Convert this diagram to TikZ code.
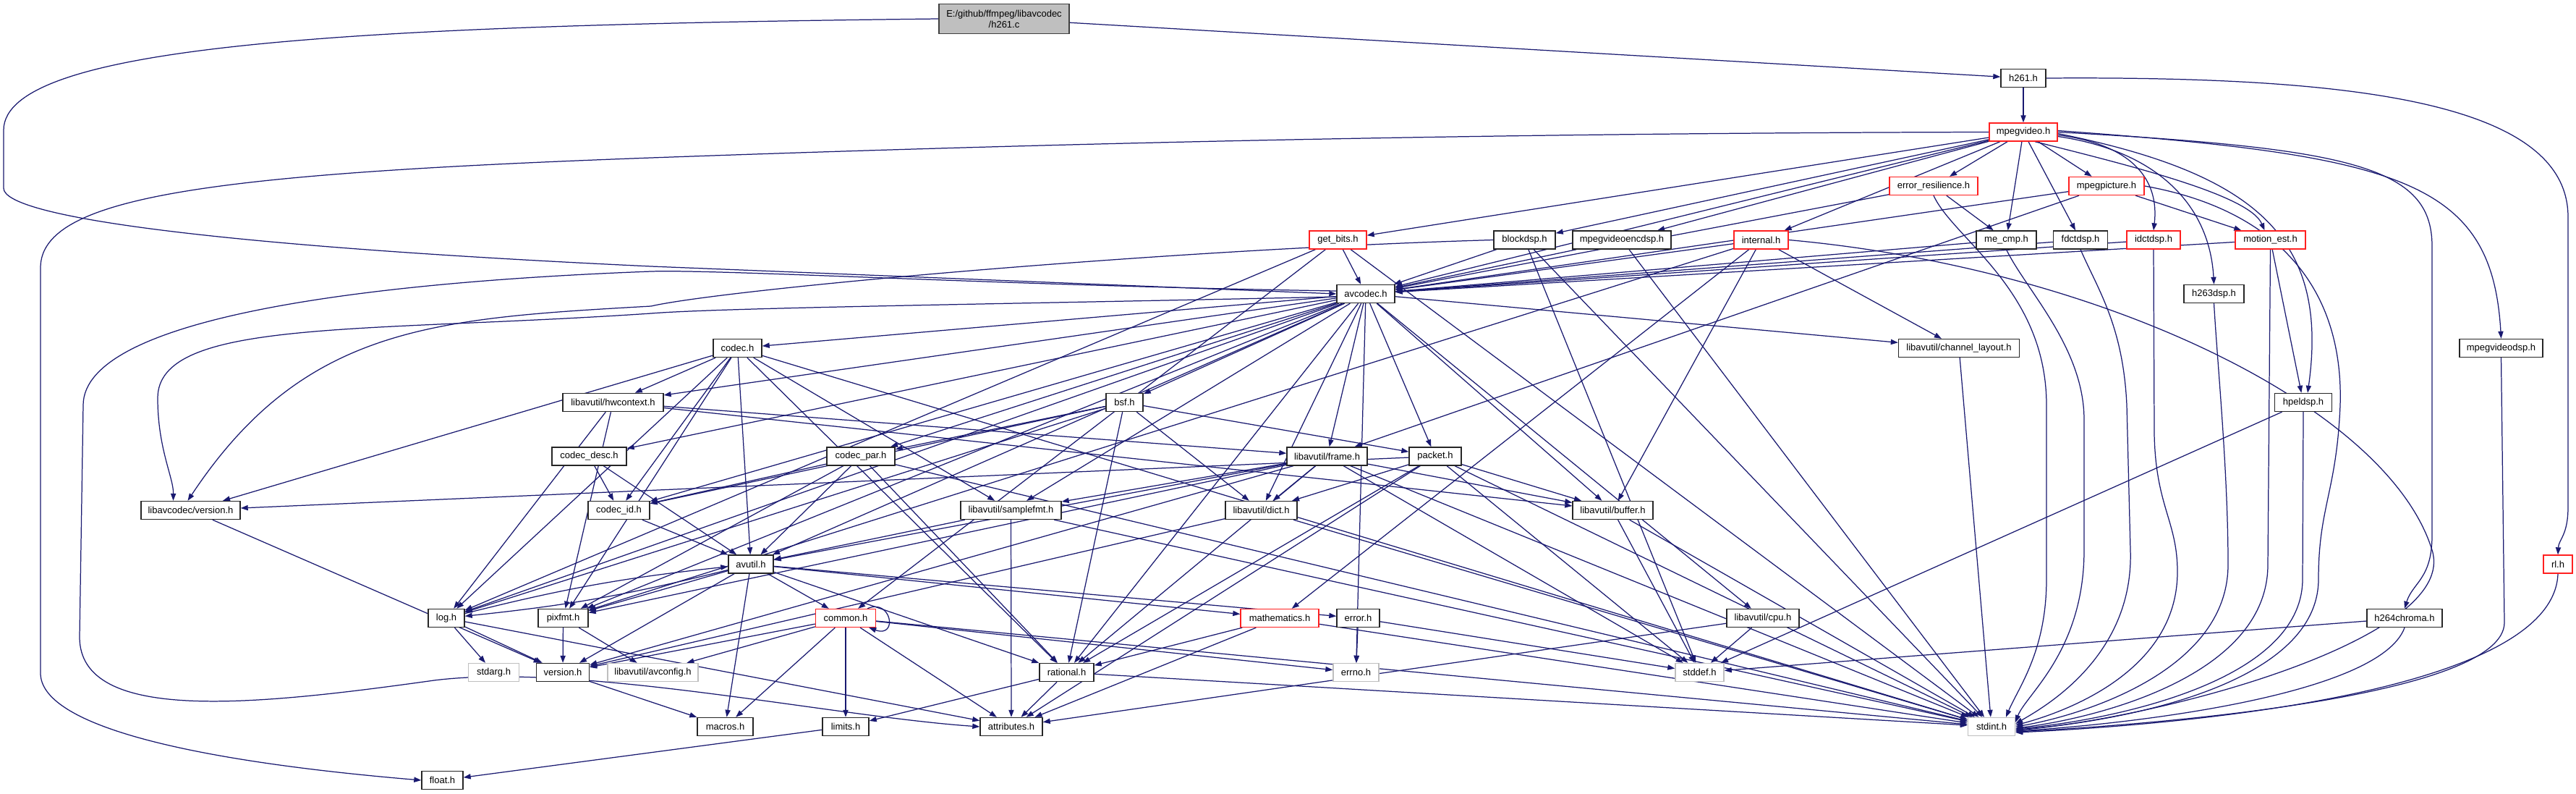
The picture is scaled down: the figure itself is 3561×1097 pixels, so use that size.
\documentclass[tikz,border=0pt]{standalone}
\usepackage{fontspec}
\setmainfont{Liberation Sans}
\usetikzlibrary{arrows.meta}
\definecolor{edgec}{HTML}{191970}
\definecolor{redb}{HTML}{FF2020}
\definecolor{grayb}{HTML}{BFBFBF}
\definecolor{rootf}{HTML}{BFBFBF}
\pgfdeclarelayer{bg}
\pgfdeclarelayer{edges}
\pgfsetlayers{bg,edges,main}
\begin{document}
\begin{tikzpicture}[x=0.5pt,y=-0.5pt,
  box/.style={rectangle, draw=black!85, line width=0.7pt, inner sep=0pt, minimum height=12.5pt,
    font=\fontsize{6.5}{7.5}\selectfont, text=black, fill=white},
  rbox/.style={box, draw=redb},
  gbox/.style={box, draw=grayb},
  e/.style={draw=edgec, line width=0.62pt, -{Triangle[length=5pt,width=3.6pt]}},
]
\begin{pgfonlayer}{bg}
\fill[white] (0,0) rectangle (3561,1097);
\end{pgfonlayer}
\useasboundingbox (0,0) rectangle (3561,1097);

% nodes
\node[box, fill=rootf, draw=black!75, align=center, minimum width=90pt, minimum height=20.5pt] (h261c) at (1388,26) {E:/github/ffmpeg/libavcodec\\/h261.c};
\node[box, minimum width=31pt] (h261h) at (2797,108) {h261.h};
\node[rbox, minimum width=47pt] (mpegvideo) at (2797,182.5) {mpegvideo.h};
\node[rbox, minimum width=61pt] (errres) at (2673,257) {error\_resilience.h};
\node[rbox, minimum width=52pt] (mpegpic) at (2912,257) {mpegpicture.h};
\node[rbox, minimum width=39.5pt] (getbits) at (1849.5,331.5) {get\_bits.h};
\node[box, minimum width=42.5pt] (blockdsp) at (2107.5,331.5) {blockdsp.h};
\node[box, minimum width=68pt] (mvencdsp) at (2242,331.5) {mpegvideoencdsp.h};
\node[rbox, minimum width=37.5pt] (internal) at (2434.5,331.5) {internal.h};
\node[box, minimum width=41.5pt] (mecmp) at (2773.5,331.5) {me\_cmp.h};
\node[box, minimum width=37.5pt] (fdctdsp) at (2876,331.5) {fdctdsp.h};
\node[rbox, minimum width=37pt] (idctdsp) at (2977,331.5) {idctdsp.h};
\node[rbox, minimum width=48.5pt] (motionest) at (3138.5,331.5) {motion\_est.h};
\node[box, minimum width=40pt] (avcodec) at (1888,406) {avcodec.h};
\node[box, minimum width=41.5pt] (h263dsp) at (3060.5,406) {h263dsp.h};
\node[box, minimum width=83.5pt] (chlayout) at (2708,481) {libavutil/channel\_layout.h};
\node[box, minimum width=33.5pt] (codec) at (1019.5,481) {codec.h};
\node[box, minimum width=57.5pt] (mvdsp) at (3457.5,481) {mpegvideodsp.h};
\node[box, minimum width=69.5pt] (hwcontext) at (847.5,556) {libavutil/hwcontext.h};
\node[box, minimum width=25.5pt] (bsf) at (1554.5,556) {bsf.h};
\node[box, minimum width=39.5pt] (hpeldsp) at (3184,556) {hpeldsp.h};
\node[box, minimum width=51.5pt] (codecdesc) at (814.5,630.5) {codec\_desc.h};
\node[box, minimum width=47pt] (codecpar) at (1190,630.5) {codec\_par.h};
\node[box, minimum width=55.5pt] (frame) at (1834.5,630.5) {libavutil/frame.h};
\node[box, minimum width=36pt] (packet) at (1984,630.5) {packet.h};
\node[box, minimum width=68.5pt] (lavcver) at (263.5,705) {libavcodec/version.h};
\node[box, minimum width=42.5pt] (codecid) at (855.5,705) {codec\_id.h};
\node[box, minimum width=69.5pt] (samplefmt) at (1397.5,705) {libavutil/samplefmt.h};
\node[box, minimum width=49.5pt] (dict) at (1743.5,705) {libavutil/dict.h};
\node[box, minimum width=55.5pt] (buffer) at (2229.5,705) {libavutil/buffer.h};
\node[box, minimum width=31pt] (avutil) at (1038,779.5) {avutil.h};
\node[rbox, minimum width=20pt] (rl) at (3536,779.5) {rl.h};
\node[box, minimum width=25pt] (log) at (617,854) {log.h};
\node[box, minimum width=34.5pt] (pixfmt) at (778.5,854) {pixfmt.h};
\node[rbox, minimum width=41.5pt] (common) at (1169,854) {common.h};
\node[rbox, minimum width=54pt] (math) at (1769,854) {mathematics.h};
\node[box, minimum width=29.5pt] (error) at (1877.5,854) {error.h};
\node[box, minimum width=50pt] (cpu) at (2437,854) {libavutil/cpu.h};
\node[box, minimum width=52pt] (h264chroma) at (3324,854) {h264chroma.h};
\node[gbox, minimum width=35pt] (stdarg) at (682.5,929) {stdarg.h};
\node[box, minimum width=36.5pt] (version) at (778,929) {version.h};
\node[gbox, minimum width=62.5pt] (avconfig) at (902.5,929) {libavutil/avconfig.h};
\node[box, minimum width=37.5pt] (rational) at (1474.5,929) {rational.h};
\node[gbox, minimum width=31.5pt] (errno) at (1874.5,929) {errno.h};
\node[gbox, minimum width=33.5pt] (stddef) at (2349.5,929) {stddef.h};
\node[box, minimum width=38.5pt] (macros) at (1002.5,1004) {macros.h};
\node[box, minimum width=32pt] (limits) at (1169,1004) {limits.h};
\node[box, minimum width=43pt] (attributes) at (1398,1004) {attributes.h};
\node[gbox, minimum width=32.5pt] (stdint) at (2753,1004) {stdint.h};
\node[box, minimum width=28.5pt] (float) at (611.5,1078) {float.h};

\begin{pgfonlayer}{edges}
\foreach \a/\b in {h261c/h261h, h261h/mpegvideo,
 mpegvideo/avcodec, mpegvideo/getbits, mpegvideo/blockdsp, mpegvideo/mvencdsp, mpegvideo/internal,
 mpegvideo/errres, mpegvideo/mecmp, mpegvideo/fdctdsp, mpegvideo/mpegpic,
 errres/avcodec, errres/mecmp,
 mpegpic/avcodec, mpegpic/frame, mpegpic/motionest,
 getbits/avcodec, getbits/common, getbits/log, getbits/stdint,
 blockdsp/avcodec, blockdsp/stddef, blockdsp/stdint,
 mvencdsp/avcodec, mvencdsp/stdint,
 internal/avcodec, internal/buffer, internal/chlayout, internal/math, internal/pixfmt,
 mecmp/avcodec, fdctdsp/avcodec, idctdsp/avcodec,
 motionest/avcodec, motionest/hpeldsp,
 hpeldsp/stddef, h264chroma/stddef,
 chlayout/stdint,
 avcodec/avutil, avcodec/buffer, avcodec/cpu, avcodec/chlayout, avcodec/dict, avcodec/frame,
 avcodec/hwcontext, avcodec/log, avcodec/pixfmt, avcodec/rational, avcodec/bsf, avcodec/codec,
 avcodec/codecdesc, avcodec/codecpar, avcodec/codecid, avcodec/packet, avcodec/errno, avcodec/samplefmt,
 codec/stdint, codec/avutil, codec/hwcontext, codec/log, codec/pixfmt, codec/rational, codec/samplefmt,
 codec/codecid, codec/lavcver,
 hwcontext/buffer, hwcontext/frame, hwcontext/log, hwcontext/pixfmt,
 bsf/dict, bsf/log, bsf/rational, bsf/codecid, bsf/codecpar, bsf/packet,
 codecdesc/avutil, codecdesc/codecid,
 codecpar/stdint, codecpar/avutil, codecpar/rational, codecpar/pixfmt, codecpar/codecid,
 packet/stddef, packet/stdint, packet/attributes, packet/buffer, packet/dict, packet/rational, packet/lavcver,
 frame/stddef, frame/stdint, frame/avutil, frame/buffer, frame/dict, frame/rational, frame/samplefmt,
 frame/pixfmt, frame/version,
 lavcver/version, codecid/avutil,
 samplefmt/stdint, samplefmt/avutil, samplefmt/attributes,
 dict/stdint, dict/version, buffer/stddef, buffer/stdint,
 avutil/common, avutil/error, avutil/rational, avutil/version, avutil/macros, avutil/math, avutil/pixfmt,
 log/stdarg, log/attributes, log/version,
 pixfmt/avconfig, pixfmt/version,
 common/errno, common/limits, common/stdint, common/attributes, common/macros, common/version, common/avconfig,
 math/stdint, math/attributes, math/rational,
 error/errno, error/stddef, cpu/stddef, cpu/attributes,
 rational/stdint, rational/limits, rational/attributes,
 version/macros, limits/float}
 \draw[e] (\a) -- (\b);

% routed curves from mpegvideo.h to the right-hand nodes
\draw[e] ([yshift=-2pt]mpegvideo.east) .. controls (2950,200) and (2985,250) .. (idctdsp.north);
\draw[e] ([yshift=-3pt]mpegvideo.east) .. controls (2990,210) and (3055,290) .. (h263dsp.north);
\draw[e] ([xshift=8pt]mpegvideo.south) .. controls (2950,230) and (3110,270) .. ([xshift=-4pt]motionest.north);
\draw[e] ([yshift=-1pt]mpegvideo.east) .. controls (3120,240) and (3220,330) .. ([xshift=3pt]hpeldsp.north);
\draw[e] (mpegvideo.east) .. controls (3250,205) and (3362,230) .. (3362,340) -- (3362,740)
  .. controls (3362,800) and (3335,805) .. (h264chroma.north);
\draw[e] ([yshift=1pt]mpegvideo.east) .. controls (3320,215) and (3445,250) .. (mvdsp.north);

% fan-in to stdint.h
\draw[e] (errres.south) .. controls (2700,330) and (2829,400) .. (2829,560) -- (2829,800)
  .. controls (2829,900) and (2790,950) .. ([xshift=10pt]stdint.north);
\draw[e] (mecmp.south) .. controls (2800,400) and (2881,480) .. (2881,580) -- (2881,760)
  .. controls (2881,900) and (2800,960) .. ([yshift=3pt]stdint.east);
\draw[e] (fdctdsp.south) .. controls (2900,400) and (2935,450) .. (2940,560) -- (2945,760)
  .. controls (2950,910) and (2820,980) .. ([yshift=2pt]stdint.east);
\draw[e] (idctdsp.south) -- (2978,600) .. controls (2980,700) and (3010,720) .. (3010,790)
  .. controls (3010,930) and (2850,985) .. ([yshift=1pt]stdint.east);
\draw[e] (h263dsp.south) .. controls (3065,500) and (3080,650) .. (3080,780)
  .. controls (3080,930) and (2870,990) .. (stdint.east);
\draw[e] (motionest.south) -- (3135,780) .. controls (3135,940) and (2880,995) .. ([yshift=-1pt]stdint.east);
\draw[e] (hpeldsp.south) -- (3183,800) .. controls (3183,950) and (2890,998) .. ([yshift=-1.5pt]stdint.east);
\draw[e] (mpegpic.east) .. controls (3150,290) and (3240,400) .. (3235,560)
  .. controls (3230,680) and (3205,700) .. (3205,800)
  .. controls (3205,955) and (2900,1000) .. ([yshift=-2pt]stdint.east);
\draw[e] (internal.east) .. controls (2900,370) and (3300,560) .. (3362,760)
  .. controls (3400,880) and (3000,990) .. ([yshift=-2.5pt]stdint.east);
\draw[e] (h264chroma.south) .. controls (3290,960) and (2950,1000) .. ([yshift=-3pt]stdint.east);
\draw[e] (mvdsp.south) -- (3462,860) .. controls (3462,960) and (3000,1000) .. ([yshift=-3.5pt]stdint.east);
\draw[e] (rl.south) .. controls (3530,960) and (3000,1002) .. ([yshift=-4pt]stdint.east);

% other routed curves
\draw[e] (h261c.west) .. controls (500,35) and (5,60) .. (5,180) -- (5,260)
  .. controls (5,300) and (300,340) .. (900,368) -- (avcodec.west);
\draw[e] (h261h.east) .. controls (3250,105) and (3550,140) .. (3550,300) -- (3550,700)
  .. controls (3550,740) and (3537,745) .. (rl.north);
\draw[e] (mpegvideo.west) .. controls (2000,184) and (1400,200) .. (900,218)
  .. controls (300,240) and (56,270) .. (56,370) -- (56,930)
  .. controls (56,1000) and (250,1050) .. (float.west);
\draw[e] ([yshift=2pt]avcodec.west) .. controls (1400,395) and (1000,372) .. (900,375)
  .. controls (500,390) and (115,440) .. (115,560) -- (110,880)
  .. controls (110,1000) and (350,975) .. (600,940)
  .. controls (800,915) and (1150,990) .. (attributes.west);
\draw[e] ([yshift=-2pt]avcodec.west) .. controls (1400,420) and (1000,425) .. (900,433)
  .. controls (500,460) and (218,440) .. (218,550)
  .. controls (218,620) and (240,660) .. ([xshift=-12pt]lavcver.north);
\draw[e] (blockdsp.west) .. controls (1600,345) and (1000,400) .. (900,423)
  .. controls (600,440) and (420,450) .. ([xshift=-2pt]lavcver.north);
\draw[e] (avutil) to[bend left=4] (log);
\draw[e] (log) to[bend left=4] (avutil);
\draw[e] ([xshift=-6pt]common.north east) .. controls (1232,826) and (1242,882) .. ([xshift=-5pt]common.south east);
\end{pgfonlayer}
\end{tikzpicture}
\end{document}
